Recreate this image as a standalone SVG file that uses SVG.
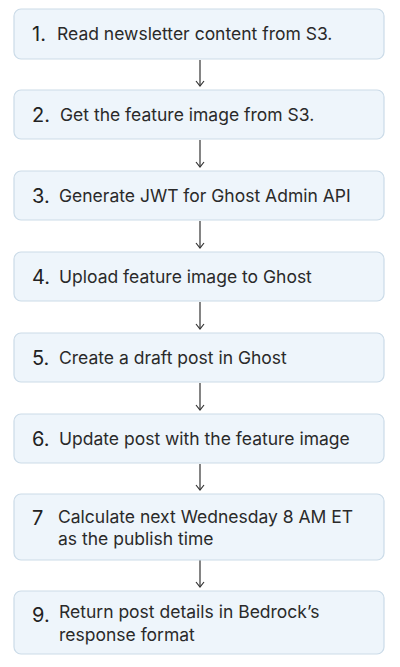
<svg xmlns="http://www.w3.org/2000/svg" width="400" height="667" viewBox="0 0 400 667">
<defs>
<style>
.box{fill:#eef5fb;stroke:#cbdbe8;stroke-width:1.2}
.num{font-family:Inter,"Liberation Sans",sans-serif;font-size:20px;fill:#222}
.txt{font-family:Inter,"Liberation Sans",sans-serif;font-size:17.5px;fill:#2a2a2a}
.edge{stroke:#333;stroke-width:1.2;fill:none}
</style>
</defs>
<rect width="400" height="667" fill="#ffffff"/>
<g id="connectors">
<line class="edge" x1="200" y1="60" x2="200" y2="86"/>
<path class="edge" d="M196,81 L200,86 L204,81"/>
<line class="edge" x1="200" y1="140" x2="200" y2="167"/>
<path class="edge" d="M196,162 L200,167 L204,162"/>
<line class="edge" x1="200" y1="221" x2="200" y2="248"/>
<path class="edge" d="M196,243 L200,248 L204,243"/>
<line class="edge" x1="200" y1="302" x2="200" y2="329"/>
<path class="edge" d="M196,324 L200,329 L204,324"/>
<line class="edge" x1="200" y1="383" x2="200" y2="410"/>
<path class="edge" d="M196,405 L200,410 L204,405"/>
<line class="edge" x1="200" y1="464" x2="200" y2="490"/>
<path class="edge" d="M196,485 L200,490 L204,485"/>
<line class="edge" x1="200" y1="560" x2="200" y2="587"/>
<path class="edge" d="M196,582 L200,587 L204,582"/>
</g>
<g id="n1">
<rect class="box" x="14" y="9" width="370" height="50" rx="7"/>
<text class="num" x="32" y="41">1.</text>
<text class="txt" x="57" y="40">Read newsletter content from S3.</text>
</g>
<g id="n2">
<rect class="box" x="14" y="90" width="370" height="49" rx="7"/>
<text class="num" x="32" y="122">2.</text>
<text class="txt" x="60" y="121">Get the feature image from S3.</text>
</g>
<g id="n3">
<rect class="box" x="14" y="171" width="370" height="49" rx="7"/>
<text class="num" x="32" y="203">3.</text>
<text class="txt" x="59" y="202">Generate JWT for Ghost Admin API</text>
</g>
<g id="n4">
<rect class="box" x="14" y="252" width="370" height="49" rx="7"/>
<text class="num" x="32" y="284">4.</text>
<text class="txt" x="59" y="283">Upload feature image to Ghost</text>
</g>
<g id="n5">
<rect class="box" x="14" y="333" width="370" height="49" rx="7"/>
<text class="num" x="32" y="365">5.</text>
<text class="txt" x="59" y="364">Create a draft post in Ghost</text>
</g>
<g id="n6">
<rect class="box" x="14" y="414" width="370" height="49" rx="7"/>
<text class="num" x="32" y="446">6.</text>
<text class="txt" x="59" y="445">Update post with the feature image</text>
</g>
<g id="n7">
<rect class="box" x="14" y="494" width="370" height="66" rx="7"/>
<text class="num" x="32" y="525">7</text>
<text class="txt" x="58" y="523">Calculate next Wednesday 8 AM ET</text>
<text class="txt" x="58" y="545">as the publish time</text>
</g>
<g id="n9">
<rect class="box" x="14" y="591" width="370" height="63" rx="7"/>
<text class="num" x="32" y="622">9.</text>
<text class="txt" x="59" y="618">Return post details in Bedrock’s</text>
<text class="txt" x="59" y="641">response format</text>
</g>
</svg>
